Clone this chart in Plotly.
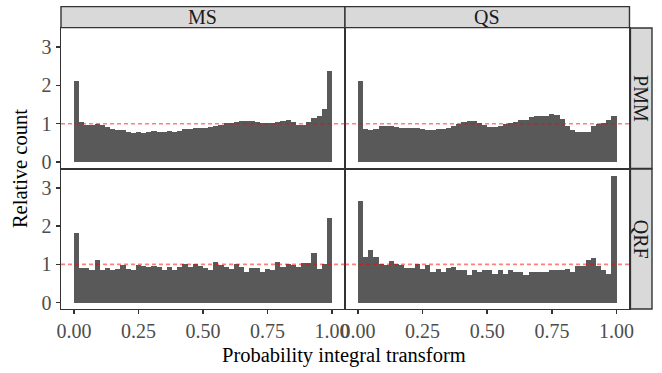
import plotly.graph_objects as go

# ---- data ----
bin_centers = [round(0.01 + 0.02 * i, 2) for i in range(50)]
x_tick_vals = [0, 0.25, 0.5, 0.75, 1.0]
x_tick_text = ["0.00", "0.25", "0.50", "0.75", "1.00"]
y_tick_vals = [0, 1, 2, 3]
y_tick_text = ["0", "1", "2", "3"]
col_labels = ["MS", "QS"]
row_labels = ["PMM", "QRF"]

ms_pmm = [2.10, 1.04, 0.97, 0.97, 0.99, 0.96, 0.91, 0.86, 0.83, 0.83,
          0.78, 0.75, 0.78, 0.75, 0.78, 0.81, 0.78, 0.78, 0.81, 0.78,
          0.81, 0.86, 0.86, 0.89, 0.89, 0.89, 0.91, 0.94, 0.96, 1.01,
          1.01, 1.04, 1.07, 1.07, 1.07, 1.04, 1.02, 1.02, 1.02, 1.04,
          1.07, 1.10, 1.04, 0.96, 0.96, 1.04, 1.15, 1.20, 1.39, 2.36]
qs_pmm = [2.10, 0.86, 0.83, 0.86, 0.94, 0.94, 0.94, 0.91, 0.89, 0.89,
          0.89, 0.89, 0.86, 0.83, 0.83, 0.86, 0.86, 0.89, 0.94, 0.99,
          1.04, 1.07, 1.07, 1.02, 0.96, 0.91, 0.91, 0.94, 0.99, 1.02,
          1.04, 1.10, 1.10, 1.18, 1.20, 1.20, 1.20, 1.25, 1.23, 1.12,
          0.94, 0.83, 0.78, 0.78, 0.78, 0.94, 0.99, 1.02, 1.10, 1.20]
ms_qrf = [1.81, 0.91, 0.91, 0.86, 1.12, 0.84, 0.91, 0.86, 0.89, 0.99,
          0.89, 0.84, 0.99, 0.97, 0.94, 0.97, 0.94, 0.86, 0.94, 0.84,
          0.94, 1.02, 0.94, 1.02, 0.97, 0.91, 0.86, 1.07, 0.99, 0.94,
          0.89, 1.02, 0.94, 0.81, 0.91, 0.91, 0.81, 0.89, 0.86, 1.07,
          0.94, 1.02, 0.99, 0.94, 1.04, 1.04, 1.30, 0.89, 1.02, 2.20]
qs_qrf = [2.66, 1.20, 1.38, 1.20, 1.02, 0.99, 1.09, 1.02, 0.99, 0.91,
          0.91, 1.02, 0.89, 0.99, 0.81, 0.89, 0.81, 0.91, 0.94, 0.86,
          0.84, 0.71, 0.84, 0.79, 0.86, 0.86, 0.74, 0.84, 0.76, 0.86,
          0.81, 0.79, 0.71, 0.81, 0.81, 0.79, 0.81, 0.84, 0.86, 0.86,
          0.89, 0.81, 0.97, 0.97, 1.12, 1.17, 0.97, 0.86, 0.76, 3.30]
reference_level = 1.0

# ---- layout geometry ----
FONT = "Liberation Serif"
BAR_COLOR = "#595959"
BORDER = "#333333"
STRIP_FILL = "#D9D9D9"
X_DOM = [[0.0, 0.4805], [0.4805, 0.9619]]
Y_DOM = [[0.4637, 0.9274], [0.0, 0.4620]]
X_RANGE = [-0.05, 1.05]
Y_RANGE = [-0.166, 3.49]

panels = [
    (0, 0, ms_pmm),
    (0, 1, qs_pmm),
    (1, 0, ms_qrf),
    (1, 1, qs_qrf),
]

fig = go.Figure()
shapes = []
annotations = []

for idx, (r, c, vals) in enumerate(panels, start=1):
    xa = "x" if idx == 1 else f"x{idx}"
    ya = "y" if idx == 1 else f"y{idx}"
    fig.add_trace(go.Bar(
        x=bin_centers, y=vals, width=0.02,
        marker=dict(color=BAR_COLOR, line=dict(width=0)),
        xaxis=xa, yaxis=ya, showlegend=False, hoverinfo="x+y",
    ))
    bottom = (r == 1)
    left = (c == 0)
    fig.layout[f"xaxis{'' if idx == 1 else idx}"] = dict(
        domain=X_DOM[c], anchor=ya, range=X_RANGE,
        showgrid=False, zeroline=False,
        showline=True, mirror=True, linecolor=BORDER, linewidth=1.4,
        ticks="outside" if bottom else "", ticklen=4, tickwidth=1.5, tickcolor=BORDER,
        tickvals=x_tick_vals, ticktext=x_tick_text,
        showticklabels=bottom,
        tickfont=dict(family=FONT, size=20, color="#4D4D4D"),
        automargin=False, fixedrange=True,
    )
    fig.layout[f"yaxis{'' if idx == 1 else idx}"] = dict(
        domain=Y_DOM[r], anchor=xa, range=Y_RANGE,
        showgrid=False, zeroline=False,
        showline=True, mirror=True, linecolor=BORDER, linewidth=1.4,
        ticks="outside" if left else "", ticklen=4, tickwidth=1.5, tickcolor=BORDER,
        tickvals=y_tick_vals, ticktext=y_tick_text,
        showticklabels=left,
        tickfont=dict(family=FONT, size=20, color="#4D4D4D"),
        automargin=False, fixedrange=True,
    )
    # dashed reference line
    shapes.append(dict(
        type="line", xref=f"{xa} domain", yref=ya,
        x0=0, x1=1, y0=reference_level, y1=reference_level,
        line=dict(color="rgba(255,0,0,0.5)", width=1.6, dash="4px,3px"),
        layer="above",
    ))

# column strips
for c, lab in enumerate(col_labels):
    shapes.append(dict(
        type="rect", xref="paper", yref="paper",
        x0=X_DOM[c][0], x1=X_DOM[c][1], y0=0.9285, y1=0.998,
        fillcolor=STRIP_FILL, line=dict(color=BORDER, width=1.4), layer="below",
    ))
    annotations.append(dict(
        text=lab, xref="paper", yref="paper",
        x=(X_DOM[c][0] + X_DOM[c][1]) / 2, y=(0.9285 + 0.998) / 2,
        xanchor="center", yanchor="middle", showarrow=False,
        font=dict(family=FONT, size=20, color="#1A1A1A"),
    ))

# row strips
for r, lab in enumerate(row_labels):
    shapes.append(dict(
        type="rect", xref="paper", yref="paper",
        x0=0.9635, x1=1.0, y0=Y_DOM[r][0], y1=Y_DOM[r][1],
        fillcolor=STRIP_FILL, line=dict(color=BORDER, width=1.4), layer="below",
    ))
    annotations.append(dict(
        text=lab, xref="paper", yref="paper",
        x=(0.9635 + 1.0) / 2, y=(Y_DOM[r][0] + Y_DOM[r][1]) / 2,
        xanchor="center", yanchor="middle", showarrow=False, textangle=90,
        font=dict(family=FONT, size=20, color="#1A1A1A"),
    ))

# axis titles
annotations.append(dict(
    text="Probability integral transform", xref="paper", yref="paper",
    x=0.479, y=-0.152, xanchor="center", yanchor="middle", showarrow=False,
    font=dict(family=FONT, size=20.5, color="black"),
))
annotations.append(dict(
    text="Relative count", xref="paper", yref="paper",
    x=-0.0694, y=0.465, xanchor="center", yanchor="middle", showarrow=False,
    textangle=-90, font=dict(family=FONT, size=20.5, color="black"),
))

fig.update_layout(
    width=662, height=373,
    margin=dict(l=61, r=10, t=6, b=64),
    paper_bgcolor="white", plot_bgcolor="white",
    bargap=0, barmode="overlay",
    shapes=shapes, annotations=annotations,
    font=dict(family=FONT),
    showlegend=False,
)

fig.write_html(
    "out.html",
    config={"displayModeBar": False, "staticPlot": True},
    post_script="document.body.style.margin='0';document.body.style.padding='0';",
)
